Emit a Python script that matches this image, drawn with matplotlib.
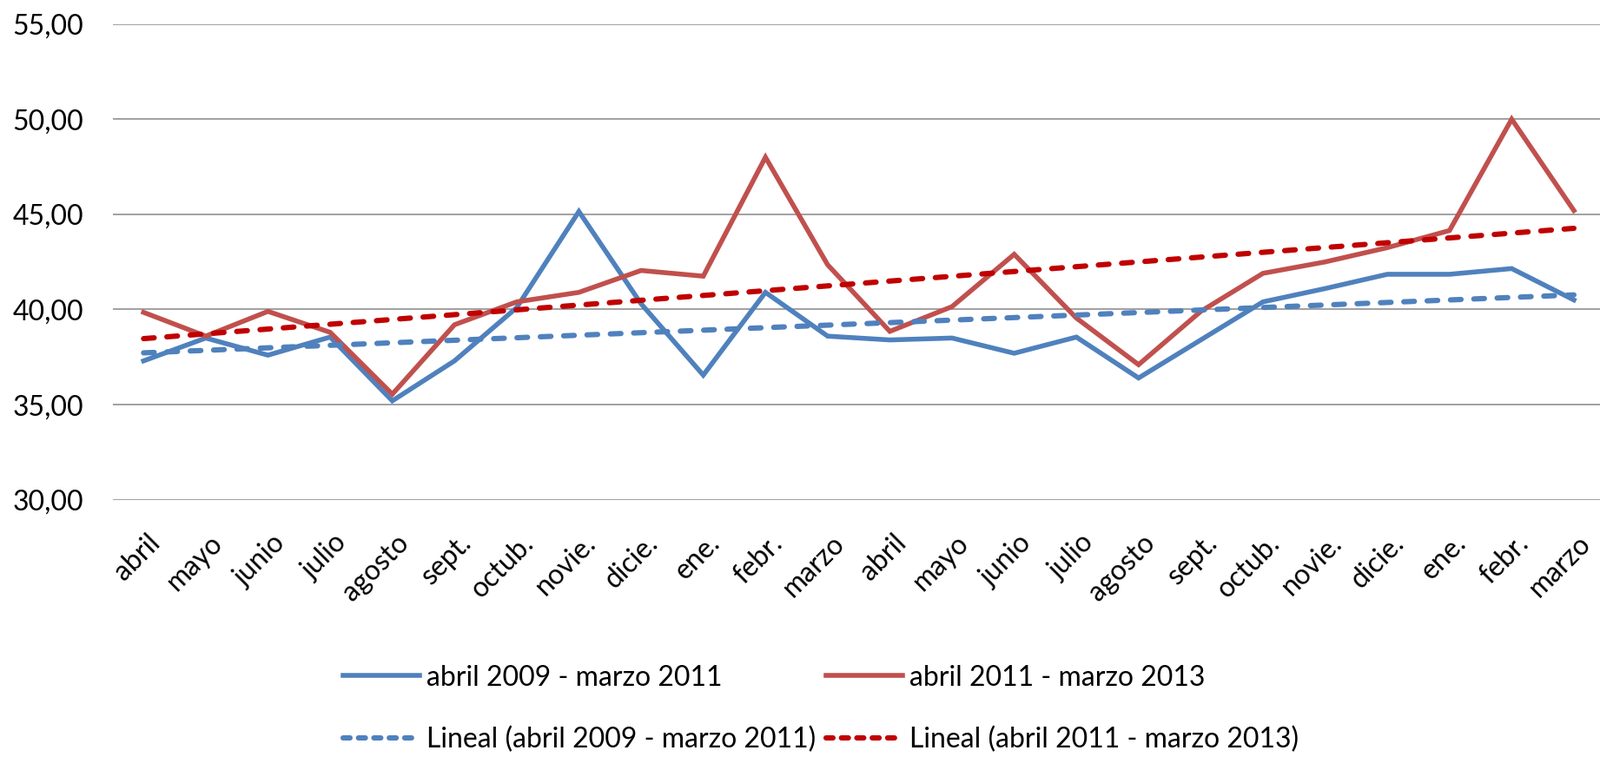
import numpy as np
import matplotlib
matplotlib.use("Agg")
import matplotlib.pyplot as plt
import matplotlib.transforms as mtransforms
from matplotlib.lines import Line2D

# ---- data ----
months = ["abril", "mayo", "junio", "julio", "agosto", "sept.", "octub.", "novie.",
          "dicie.", "ene.", "febr.", "marzo",
          "abril", "mayo", "junio", "julio", "agosto", "sept.", "octub.", "novie.",
          "dicie.", "ene.", "febr.", "marzo"]
serie_2009_2011 = [37.3, 38.5, 37.6, 38.55, 35.2, 37.3, 40.1, 45.15, 40.3, 36.55, 40.9, 38.6,
                   38.4, 38.5, 37.7, 38.55, 36.4, 38.4, 40.4, 41.1, 41.85, 41.85, 42.15, 40.5]
serie_2011_2013 = [39.85, 38.6, 39.9, 38.8, 35.55, 39.2, 40.4, 40.9, 42.05, 41.75, 48.0, 42.35,
                   38.85, 40.15, 42.9, 39.55, 37.1, 39.9, 41.9, 42.5, 43.25, 44.15, 50.0, 45.2]
label_a = "abril 2009 - marzo 2011"
label_b = "abril 2011 - marzo 2013"
yticks = [30, 35, 40, 45, 50, 55]
ytick_labels = ["30,00", "35,00", "40,00", "45,00", "50,00", "55,00"]

# ---- style ----
plt.rcParams['font.family'] = ['Lato', 'DejaVu Sans']
FS = 23
W, H = 1842, 872
fig = plt.figure(figsize=(W / 100, H / 100), dpi=100)
ax = fig.add_axes([129.5 / W, 1 - 575.7 / H, 1 - 129.5 / W, (575.7 - 27.7) / H])

x = np.arange(len(months))
a = np.array(serie_2009_2011)
b = np.array(serie_2011_2013)

blue = "#4F81BD"
red = "#C0504D"
dred = "#C00000"
LW = 4.0
TLW = 4.4

ax.plot(x, a, color=blue, lw=LW, solid_joinstyle='miter', zorder=3)
ax.plot(x, b, color=red, lw=LW, solid_joinstyle='miter', zorder=3)

# linear trend lines (as Excel "Lineal")
ca = np.polyfit(x, a, 1)
cb = np.polyfit(x, b, 1)
ta = np.polyval(ca, x)
tb = np.polyval(cb, x)
ax.plot(x, ta, color=blue, lw=TLW, dashes=(2.0, 2.4), dash_capstyle='round', zorder=4)
ax.plot(x, tb, color=dred, lw=TLW, dashes=(2.0, 2.4), dash_capstyle='round', zorder=4)

ax.set_xlim(-0.5, 23.42)
ax.set_ylim(30, 55)
ax.set_yticks(yticks)
ax.set_yticklabels(ytick_labels, fontsize=FS)
ax.yaxis.grid(True, color="#868686", lw=1.1)
ax.set_axisbelow(True)
for s in ax.spines.values():
    s.set_visible(False)
ax.tick_params(axis='y', length=0, pad=24)
ax.tick_params(axis='x', length=0, pad=25)

ax.set_xticks(x)
ax.set_xticklabels(months, fontsize=FS, rotation=45, ha='right', va='top',
                   rotation_mode='anchor')
off = mtransforms.ScaledTranslation(4 / 100, 0, fig.dpi_scale_trans)
for lab in ax.get_xticklabels():
    lab.set_transform(lab.get_transform() + off)

# ---- legend (two columns, two rows) ----
h_a = Line2D([], [], color=blue, lw=LW)
h_b = Line2D([], [], color=red, lw=LW)
h_ta = Line2D([], [], color=blue, lw=TLW, dashes=(1.3, 1.6), dash_capstyle='round')
h_tb = Line2D([], [], color=dred, lw=TLW, dashes=(1.3, 1.6), dash_capstyle='round')

ycen = 1 - 816.5 / H
common = dict(frameon=False, fontsize=FS, handlelength=2.75, handletextpad=0.25,
              borderpad=0, borderaxespad=0, labelspacing=1.3, loc='center left')
leg1 = fig.legend([h_a, h_ta], [label_a, "Lineal (" + label_a + ")"],
                  bbox_to_anchor=(395 / W, ycen), **common)
leg2 = fig.legend([h_b, h_tb], [label_b, "Lineal (" + label_b + ")"],
                  bbox_to_anchor=(951 / W, ycen), **common)

fig.savefig("out.png", dpi=100)
